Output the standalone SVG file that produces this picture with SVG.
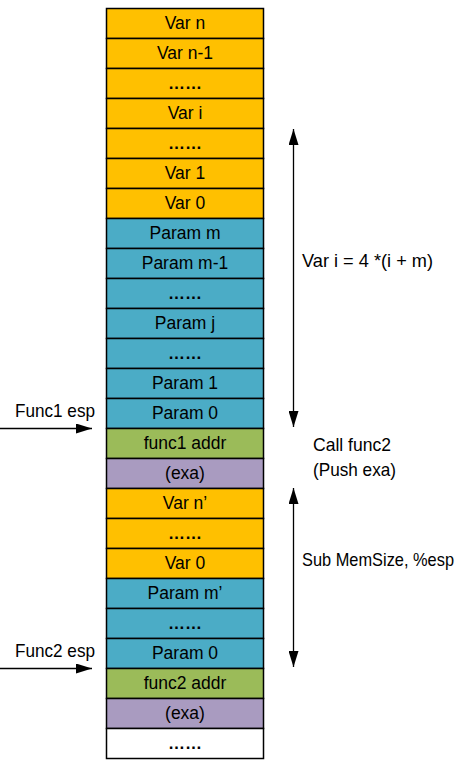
<svg xmlns="http://www.w3.org/2000/svg" width="473" height="770" viewBox="0 0 473 770">
<defs>
<style>
.c{stroke:#000;stroke-width:1.5}
.o{fill:#FFC000}.t{fill:#4BACC6}.g{fill:#9BBB59}.p{fill:#A99BC0}.w{fill:#FFFFFF}
text{font-family:"Liberation Sans",Arial,sans-serif;font-size:17.5px;fill:#000}
.m{text-anchor:middle}
.d{font-weight:bold;font-size:17px}
.l{font-size:18.5px}
.ln{stroke:#000;stroke-width:1.3;fill:none}
</style>
<marker id="ah" viewBox="0 0 16 10" refX="16" refY="5" markerWidth="16" markerHeight="10" markerUnits="userSpaceOnUse" orient="auto-start-reverse">
<path d="M0,0 L16,5 L0,10 Z" fill="#000"/>
</marker>
</defs>
<rect width="473" height="770" fill="#fff"/>
<g id="stack">
<g id="r1"><rect class="c o" x="106.5" y="8.5" width="157" height="30"/><text class="m" x="185" y="29">Var n</text></g>
<g id="r2"><rect class="c o" x="106.5" y="38.5" width="157" height="30"/><text class="m" x="185" y="59">Var n-1</text></g>
<g id="r3"><rect class="c o" x="106.5" y="68.5" width="157" height="30"/><text class="m d" x="185" y="89">……</text></g>
<g id="r4"><rect class="c o" x="106.5" y="98.5" width="157" height="30"/><text class="m" x="185" y="119">Var i</text></g>
<g id="r5"><rect class="c o" x="106.5" y="128.5" width="157" height="30"/><text class="m d" x="185" y="149">……</text></g>
<g id="r6"><rect class="c o" x="106.5" y="158.5" width="157" height="30"/><text class="m" x="185" y="179">Var 1</text></g>
<g id="r7"><rect class="c o" x="106.5" y="188.5" width="157" height="30"/><text class="m" x="185" y="209">Var 0</text></g>
<g id="r8"><rect class="c t" x="106.5" y="218.5" width="157" height="30"/><text class="m" x="185" y="239">Param m</text></g>
<g id="r9"><rect class="c t" x="106.5" y="248.5" width="157" height="30"/><text class="m" x="185" y="269">Param m-1</text></g>
<g id="r10"><rect class="c t" x="106.5" y="278.5" width="157" height="30"/><text class="m d" x="185" y="299">……</text></g>
<g id="r11"><rect class="c t" x="106.5" y="308.5" width="157" height="30"/><text class="m" x="185" y="329">Param j</text></g>
<g id="r12"><rect class="c t" x="106.5" y="338.5" width="157" height="30"/><text class="m d" x="185" y="359">……</text></g>
<g id="r13"><rect class="c t" x="106.5" y="368.5" width="157" height="30"/><text class="m" x="185" y="389">Param 1</text></g>
<g id="r14"><rect class="c t" x="106.5" y="398.5" width="157" height="30"/><text class="m" x="185" y="419">Param 0</text></g>
<g id="r15"><rect class="c g" x="106.5" y="428.5" width="157" height="30"/><text class="m" x="185" y="449">func1 addr</text></g>
<g id="r16"><rect class="c p" x="106.5" y="458.5" width="157" height="30"/><text class="m" x="185" y="479">(exa)</text></g>
<g id="r17"><rect class="c o" x="106.5" y="488.5" width="157" height="30"/><text class="m" x="185" y="509">Var n’</text></g>
<g id="r18"><rect class="c o" x="106.5" y="518.5" width="157" height="30"/><text class="m d" x="185" y="539">……</text></g>
<g id="r19"><rect class="c o" x="106.5" y="548.5" width="157" height="30"/><text class="m" x="185" y="569">Var 0</text></g>
<g id="r20"><rect class="c t" x="106.5" y="578.5" width="157" height="30"/><text class="m" x="185" y="599">Param m’</text></g>
<g id="r21"><rect class="c t" x="106.5" y="608.5" width="157" height="30"/><text class="m d" x="185" y="629">……</text></g>
<g id="r22"><rect class="c t" x="106.5" y="638.5" width="157" height="30"/><text class="m" x="185" y="659">Param 0</text></g>
<g id="r23"><rect class="c g" x="106.5" y="668.5" width="157" height="30"/><text class="m" x="185" y="689">func2 addr</text></g>
<g id="r24"><rect class="c p" x="106.5" y="698.5" width="157" height="30"/><text class="m" x="185" y="719">(exa)</text></g>
<g id="r25"><rect class="c w" x="106.5" y="728.5" width="157" height="30"/><text class="m d" x="185" y="749">……</text></g>
</g>
<g id="connectors">
<line class="ln" x1="0" y1="428.5" x2="92" y2="428.5" marker-end="url(#ah)"/>
<line class="ln" x1="0" y1="668.5" x2="92" y2="668.5" marker-end="url(#ah)"/>
<line class="ln" x1="293.5" y1="129" x2="293.5" y2="427" marker-start="url(#ah)" marker-end="url(#ah)"/>
<line class="ln" x1="293.5" y1="488" x2="293.5" y2="667" marker-start="url(#ah)" marker-end="url(#ah)"/>
</g>
<g id="labels">
<text class="l" x="15" y="417" textLength="80" lengthAdjust="spacingAndGlyphs">Func1 esp</text>
<text class="l" x="15" y="657" textLength="80" lengthAdjust="spacingAndGlyphs">Func2 esp</text>
<text class="l" x="302" y="267" textLength="131" lengthAdjust="spacingAndGlyphs">Var i = 4 *(i + m)</text>
<text class="l" x="313" y="451" textLength="78" lengthAdjust="spacingAndGlyphs">Call func2</text>
<text class="l" x="313" y="476" textLength="83" lengthAdjust="spacingAndGlyphs">(Push exa)</text>
<text class="l" x="302" y="566" textLength="152" lengthAdjust="spacingAndGlyphs">Sub MemSize, %esp</text>
</g>
</svg>
